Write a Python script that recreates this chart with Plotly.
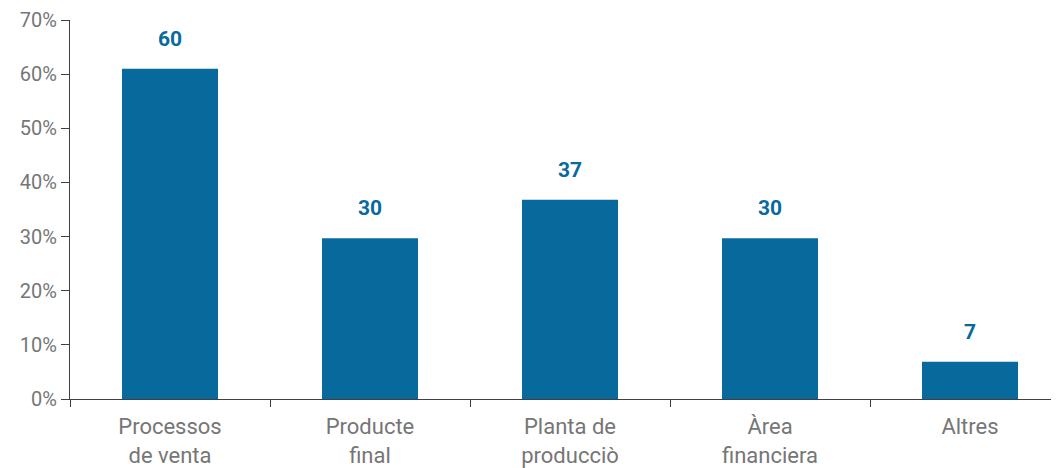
import plotly.graph_objects as go

categories = ["Processos<br>de venta", "Producte<br>final", "Planta de<br>producciò", "Àrea<br>financiera", "Altres"]
values = [61.0, 29.7, 36.8, 29.7, 6.9]
labels = ["60", "30", "37", "30", "7"]
y_ticks = [0, 10, 20, 30, 40, 50, 60, 70]

bar_color = "#086a9c"
gray = "#767676"
axis_color = "#404040"

fig = go.Figure()
fig.add_trace(go.Bar(
    x=categories, y=values, width=0.48,
    marker=dict(color=bar_color, line=dict(width=0)),
    hoverinfo="skip",
))

for c, v, t in zip(categories, values, labels):
    fig.add_annotation(
        x=c, y=v, text="<b>" + t + "</b>", showarrow=False,
        yanchor="bottom", yshift=16,
        font=dict(family="Roboto", size=21, color=bar_color),
    )

fig.update_layout(
    width=1051, height=460,
    margin=dict(l=62, r=0, t=12, b=69, autoexpand=False),
    paper_bgcolor="white", plot_bgcolor="white",
    showlegend=False,
    font=dict(family="Roboto", size=20, color=gray),
)
fig.update_xaxes(
    type="category", range=[-0.5, 4.445], automargin=False,
    showline=True, linecolor=axis_color, linewidth=1,
    ticks="outside", ticklen=7, tickcolor=axis_color, tickson="boundaries",
    ticklabelstandoff=8,
    showgrid=False, tickfont=dict(family="Roboto", size=22, color=gray),
)
fig.update_yaxes(
    range=[0, 70], tickvals=y_ticks, ticktext=[f"{v}%" for v in y_ticks],
    automargin=False,
    showline=True, linecolor=axis_color, linewidth=1,
    ticks="outside", ticklen=8, tickcolor=axis_color,
    showgrid=False, zeroline=False,
    tickfont=dict(family="Roboto", size=20, color=gray),
)

fig.write_html("out.html")
